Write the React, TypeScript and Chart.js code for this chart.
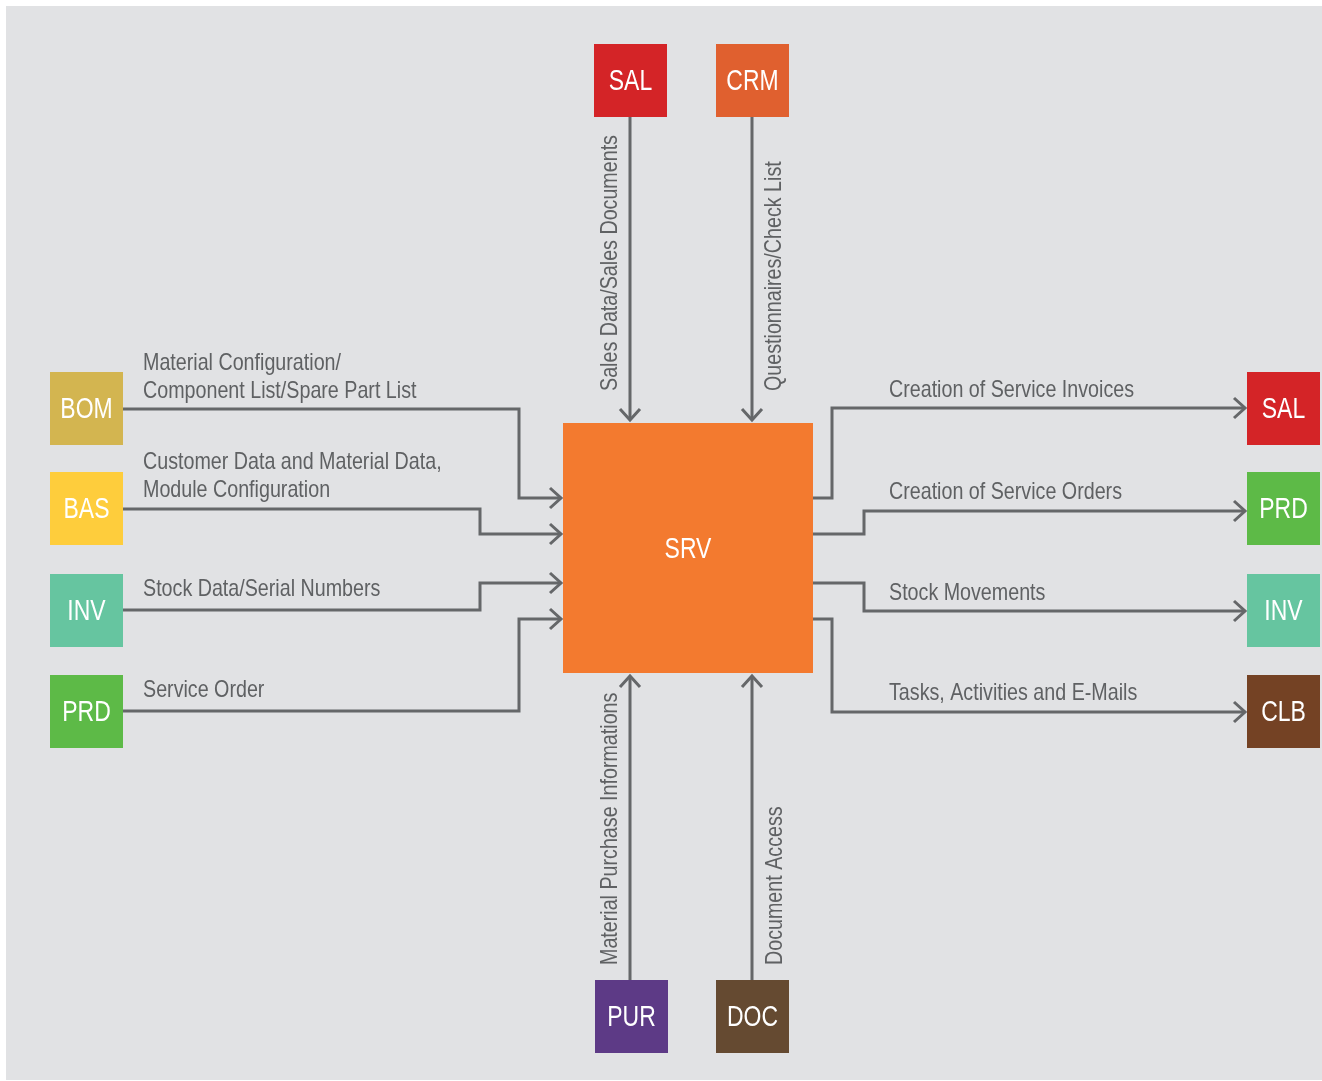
import React, { useEffect, useRef } from "react";
import { Chart, registerables } from "chart.js";
Chart.register(...registerables);

const W = 1322;
const H = 1081;

// ---- Nodes (diagram units) ----
const nodeNames = ["SRV", "SAL", "CRM", "BOM", "BAS", "INV", "PRD", "SAL", "PRD", "INV", "CLB", "PUR", "DOC"];
const nodeColors = ["#f37a2f", "#d42427", "#e0602f", "#d3b550", "#fecd3c", "#66c5a0", "#5dba47", "#d42427", "#5dba47", "#66c5a0", "#744224", "#5d3a86", "#654a31"];
const nodeLeft = [563, 594, 716, 50, 50, 50, 50, 1247, 1247, 1247, 1247, 595, 716];
const nodeTop = [423, 44, 44, 372, 472, 574, 675, 372, 472, 574, 675, 980, 980];
const nodeSide = [250, 73, 73, 73, 73, 73, 73, 73, 73, 73, 73, 73, 73];

// ---- Flows ----
const flowLabels = [
  ["Material Configuration/", "Component List/Spare Part List"],
  ["Customer Data and Material Data,", "Module Configuration"],
  ["Stock Data/Serial Numbers"],
  ["Service Order"],
  ["Creation of Service Invoices"],
  ["Creation of Service Orders"],
  ["Stock Movements"],
  ["Tasks, Activities and E-Mails"],
  ["Sales Data/Sales Documents"],
  ["Questionnaires/Check List"],
  ["Material Purchase Informations"],
  ["Document Access"],
];
const flowPathX = [
  [123, 519, 519, 561],
  [123, 480, 480, 561],
  [123, 480, 480, 561],
  [123, 519, 519, 561],
  [813, 832, 832, 1245],
  [813, 864, 864, 1245],
  [813, 864, 864, 1245],
  [813, 832, 832, 1245],
  [630, 630],
  [752, 752],
  [630, 630],
  [752, 752],
];
const flowPathY = [
  [409, 409, 498, 498],
  [509, 509, 534, 534],
  [610, 610, 583, 583],
  [711, 711, 619, 619],
  [498, 498, 408, 408],
  [534, 534, 511, 511],
  [583, 583, 611, 611],
  [619, 619, 712, 712],
  [117, 420],
  [117, 420],
  [980, 676],
  [980, 676],
];
const labelX = [143, 143, 143, 143, 889, 889, 889, 889, 617, 781, 617, 782];
const labelY = [370, 469, 596, 697, 397, 499, 600, 700, 391, 391, 965, 965];
const labelVertical = [false, false, false, false, false, false, false, false, true, true, true, true];

const LINE_COLOR = "#656769";
const TEXT_COLOR = "#5f6163";
const BG_COLOR = "#e1e2e4";

export default function App() {
  const ref = useRef<HTMLCanvasElement | null>(null);

  useEffect(() => {
    const canvas = ref.current;
    if (!canvas) return;

    // detect narrow font
    const probe = document.createElement("canvas").getContext("2d")!;
    probe.font = "100px 'Liberation Sans Narrow', monospace";
    const w1 = probe.measureText("Material Configuration").width;
    probe.font = "100px monospace";
    const w2 = probe.measureText("Material Configuration").width;
    const narrow = Math.abs(w1 - w2) > 1;
    const family = narrow ? "'Liberation Sans Narrow', 'Liberation Sans', sans-serif" : "'Liberation Sans', Arial, sans-serif";
    const squeeze = narrow ? 1 : 0.82;

    const drawText = (
      ctx: CanvasRenderingContext2D,
      text: string,
      x: number,
      y: number,
      size: number,
      color: string,
      vertical: boolean,
      align: CanvasTextAlign,
      stretchY = 1
    ) => {
      ctx.save();
      ctx.translate(x, y);
      if (vertical) ctx.rotate(-Math.PI / 2);
      ctx.scale(squeeze, stretchY);
      ctx.font = `${size}px ${family}`;
      ctx.fillStyle = color;
      ctx.textAlign = align;
      ctx.textBaseline = "alphabetic";
      ctx.fillText(text, 0, 0);
      ctx.restore();
    };

    const datasets = flowPathX.map((xs, i) => ({
      label: flowLabels[i].join(" "),
      data: xs.map((x, j) => ({ x, y: flowPathY[i][j] })),
      showLine: true,
      borderColor: LINE_COLOR,
      borderWidth: 3,
      pointRadius: 0,
      tension: 0,
      fill: false,
      borderJoinStyle: "miter" as const,
      borderCapStyle: "butt" as const,
    }));

    const diagramPlugin = {
      id: "diagram",
      beforeDraw(chart: any) {
        const { ctx, scales } = chart;
        const xs = scales.x, ys = scales.y;
        ctx.save();
        ctx.fillStyle = "#ffffff";
        ctx.fillRect(0, 0, chart.width, chart.height);
        const x0 = xs.getPixelForValue(6), x1 = xs.getPixelForValue(1322);
        const y0 = ys.getPixelForValue(6), y1 = ys.getPixelForValue(1080);
        ctx.fillStyle = BG_COLOR;
        ctx.fillRect(x0, y0, x1 - x0, y1 - y0);
        ctx.restore();
      },
      afterDatasetsDraw(chart: any) {
        const { ctx, scales } = chart;
        const xs = scales.x, ys = scales.y;
        ctx.save();
        // arrowheads
        ctx.strokeStyle = LINE_COLOR;
        ctx.lineWidth = 3;
        ctx.lineJoin = "miter";
        ctx.lineCap = "butt";
        flowPathX.forEach((px, i) => {
          const py = flowPathY[i];
          const n = px.length;
          const tx = xs.getPixelForValue(px[n - 1]);
          const ty = ys.getPixelForValue(py[n - 1]);
          const sx = xs.getPixelForValue(px[n - 2]);
          const sy = ys.getPixelForValue(py[n - 2]);
          const len = Math.hypot(tx - sx, ty - sy) || 1;
          const dx = (tx - sx) / len, dy = (ty - sy) / len;
          const back = 11, half = 10;
          ctx.beginPath();
          ctx.moveTo(tx - dx * back - dy * half, ty - dy * back + dx * half);
          ctx.lineTo(tx, ty);
          ctx.lineTo(tx - dx * back + dy * half, ty - dy * back - dx * half);
          ctx.stroke();
        });
        // boxes
        nodeNames.forEach((name, i) => {
          const l = xs.getPixelForValue(nodeLeft[i]);
          const r = xs.getPixelForValue(nodeLeft[i] + nodeSide[i]);
          const t = ys.getPixelForValue(nodeTop[i]);
          const b = ys.getPixelForValue(nodeTop[i] + nodeSide[i]);
          ctx.fillStyle = nodeColors[i];
          ctx.fillRect(l, t, r - l, b - t);
          drawText(ctx, name, (l + r) / 2, (t + b) / 2 + 9.5, 28, "#ffffff", false, "center", 1.08);
        });
        // labels
        flowLabels.forEach((lines, i) => {
          lines.forEach((line, k) => {
            if (labelVertical[i]) {
              drawText(ctx, line, xs.getPixelForValue(labelX[i]), ys.getPixelForValue(labelY[i]), 24, TEXT_COLOR, true, "left");
            } else {
              drawText(ctx, line, xs.getPixelForValue(labelX[i]), ys.getPixelForValue(labelY[i] + k * 28), 24, TEXT_COLOR, false, "left");
            }
          });
        });
        ctx.restore();
      },
    };

    const chart = new Chart(canvas, {
      type: "scatter",
      data: { datasets },
      options: {
        responsive: false,
        animation: false,
        events: [],
        layout: { padding: 0 },
        plugins: { legend: { display: false }, tooltip: { enabled: false } },
        scales: {
          x: { type: "linear", min: 0, max: W, display: false },
          y: { type: "linear", min: 0, max: H, reverse: true, display: false },
        },
      },
      plugins: [diagramPlugin],
    });
    return () => chart.destroy();
  }, []);

  return (
    <div style={{ position: "fixed", left: 0, top: 0, width: W, height: H, background: "#fff" }}>
      <canvas ref={ref} width={W} height={H} style={{ width: W, height: H, display: "block" }} />
    </div>
  );
}
